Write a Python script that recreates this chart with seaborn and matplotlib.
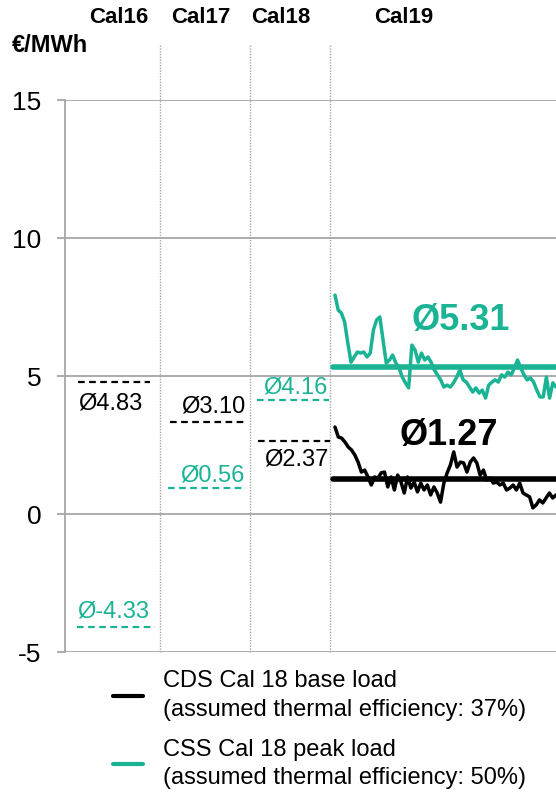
import numpy as np
import pandas as pd
import matplotlib.pyplot as plt
from matplotlib.lines import Line2D
import seaborn as sns

# colours
BLACK = "#000000"
GREEN = "#1ab394"
GRID = "#a6a6a6"

# period headers and the x-boundaries between them (arbitrary x units)
periods = ["Cal16", "Cal17", "Cal18", "Cal19"]
period_label_x = [54, 136, 216, 339]
separators = [95, 185, 265]
x_max = 491

# yearly averages (dashed): start, end, level, label, label pos, alignment
avg_black_x0 = [13, 105, 193]
avg_black_x1 = [85, 182, 265]
avg_black_lvl = [4.80, 3.33, 2.64]
avg_black_txt = ["Ø4.83", "Ø3.10", "Ø2.37"]
avg_black_tx = [13, 180, 264]
avg_black_ty = [4.02, 3.88, 1.96]
avg_black_ha = ["left", "right", "right"]

avg_green_x0 = [12, 103, 192]
avg_green_x1 = [90, 181, 264]
avg_green_lvl = [-4.10, 0.93, 4.13]
avg_green_txt = ["Ø-4.33", "Ø0.56", "Ø4.16"]
avg_green_tx = [12, 180, 263]
avg_green_ty = [-3.55, 1.41, 4.57]
avg_green_ha = ["left", "right", "right"]

# Cal19 daily series
css_cal19 = [7.93, 7.39, 7.28, 6.96, 6.2, 5.5, 5.69, 5.87, 5.83, 5.87, 5.69, 5.83,
             6.67, 7.03, 7.14, 6.3, 5.47, 5.58, 5.76, 5.47, 5.29, 4.96, 4.75, 4.57,
             6.12, 5.94, 5.5, 5.83, 5.58, 5.69, 5.5, 5.22, 5.04, 4.86, 4.6, 4.67,
             4.6, 4.75, 4.96, 5.22, 4.86, 4.78, 4.6, 4.42, 4.57, 4.38, 4.49, 4.2,
             4.67, 4.78, 4.86, 4.78, 5.04, 4.96, 5.14, 5.04, 5.29, 5.58, 5.29, 5.04,
             4.86, 4.93, 4.78, 4.49, 4.24, 4.24, 4.96, 4.2, 4.75, 4.6]
cds_cal19 = [3.15, 2.79, 2.75, 2.61, 2.43, 2.32, 2.14, 1.88, 1.52, 1.59, 1.34, 1.05,
             1.34, 1.3, 1.49, 1.52, 0.98, 1.34, 0.87, 1.41, 1.16, 0.76, 1.34, 0.94,
             1.16, 0.8, 1.12, 0.87, 1.05, 0.69, 0.98, 0.76, 0.43, 1.12, 1.49, 1.78,
             2.25, 1.7, 1.88, 1.85, 1.52, 1.88, 2.03, 1.85, 1.41, 1.59, 1.23, 1.3,
             1.12, 1.16, 1.05, 1.12, 0.87, 0.94, 1.05, 0.87, 1.12, 0.76, 0.69, 0.62,
             0.22, 0.33, 0.51, 0.4, 0.58, 0.76, 0.58, 0.69]
css_mean, cds_mean = 5.31, 1.27
css_mean_txt, cds_mean_txt = "Ø5.31", "Ø1.27"
css_mean_pos = (396, 7.0)
cds_mean_pos = (384, 2.86)
cal19_start = 270

legend_labels = ["CDS Cal 18 base load\n(assumed thermal efficiency: 37%)",
                 "CSS Cal 18 peak load\n(assumed thermal efficiency: 50%)"]

sns.set_style("white")
plt.rcParams["font.family"] = ["Liberation Sans", "DejaVu Sans"]
plt.rcParams["text.color"] = "black"
plt.rcParams["ytick.labelcolor"] = "black"
plt.rcParams["axes.unicode_minus"] = False

fig = plt.figure(figsize=(5.56, 7.95), dpi=100)
ax = fig.add_axes([65 / 556, 143 / 795, 1 - 65 / 556, 552 / 795])

css_df = pd.DataFrame({"x": np.linspace(cal19_start, x_max, len(css_cal19)), "y": css_cal19})
cds_df = pd.DataFrame({"x": np.linspace(cal19_start, x_max, len(cds_cal19)), "y": cds_cal19})

# grid lines
for v in [-5, 0, 5, 10, 15]:
    ax.axhline(v, color=GRID, lw=1.3, zorder=0)
for s in separators:
    ax.plot([s, s], [-5, 17.0], color=GRID, lw=1, ls=(0, (1, 1)), clip_on=False, zorder=0)

# yearly averages
for x0, x1, lvl, t, tx, ty, ha in zip(avg_black_x0, avg_black_x1, avg_black_lvl, avg_black_txt,
                                      avg_black_tx, avg_black_ty, avg_black_ha):
    ax.plot([x0, x1], [lvl, lvl], color=BLACK, lw=1.6, ls=(0, (3, 2)))
    ax.text(tx, ty, t, color=BLACK, fontsize=17, ha=ha, va="center")
for x0, x1, lvl, t, tx, ty, ha in zip(avg_green_x0, avg_green_x1, avg_green_lvl, avg_green_txt,
                                      avg_green_tx, avg_green_ty, avg_green_ha):
    ax.plot([x0, x1], [lvl, lvl], color=GREEN, lw=1.6, ls=(0, (3, 2)))
    ax.text(tx, ty, t, color=GREEN, fontsize=17, ha=ha, va="center")

# Cal19 series and means
sns.lineplot(data=css_df, x="x", y="y", ax=ax, color=GREEN, lw=2.5)
sns.lineplot(data=cds_df, x="x", y="y", ax=ax, color=BLACK, lw=2.5)
ax.plot([cal19_start - 2, x_max], [css_mean, css_mean], color=GREEN, lw=4)
ax.plot([cal19_start - 2, x_max], [cds_mean, cds_mean], color=BLACK, lw=4)
ax.text(*css_mean_pos, css_mean_txt, color=GREEN, fontsize=26, fontweight="bold",
        ha="center", va="center")
ax.text(*cds_mean_pos, cds_mean_txt, color=BLACK, fontsize=26, fontweight="bold",
        ha="center", va="center")

# period headers
for p, px in zip(periods, period_label_x):
    ax.text(px, 18.0, p, fontsize=16, fontweight="bold", ha="center", va="center",
            clip_on=False)
fig.text(12 / 556, 1 - 46 / 795, "€/MWh", fontsize=17, fontweight="bold", va="center")

ax.set_xlim(0, x_max)
ax.set_ylim(-5, 15)
ax.set_yticks([-5, 0, 5, 10, 15])
ax.set_xticks([])
ax.set_xlabel("")
ax.set_ylabel("")
ax.tick_params(axis="y", length=6, width=1.3, color=GRID, labelsize=19, pad=11, left=True)
for side in ["top", "right", "bottom"]:
    ax.spines[side].set_visible(False)
ax.spines["left"].set_color(GRID)
ax.spines["left"].set_linewidth(1.3)

handles = [Line2D([], [], color=BLACK, lw=3), Line2D([], [], color=GREEN, lw=3)]
leg = fig.legend(handles, legend_labels, loc="upper left",
                 bbox_to_anchor=(113 / 556, 1 - 670 / 795),
                 frameon=False, fontsize=17, handlelength=1.25, handletextpad=0.85,
                 labelspacing=0.75, borderpad=0, borderaxespad=0)
for t in leg.get_texts():
    t.set_linespacing(1.4)

fig.savefig("out.png", dpi=100)
